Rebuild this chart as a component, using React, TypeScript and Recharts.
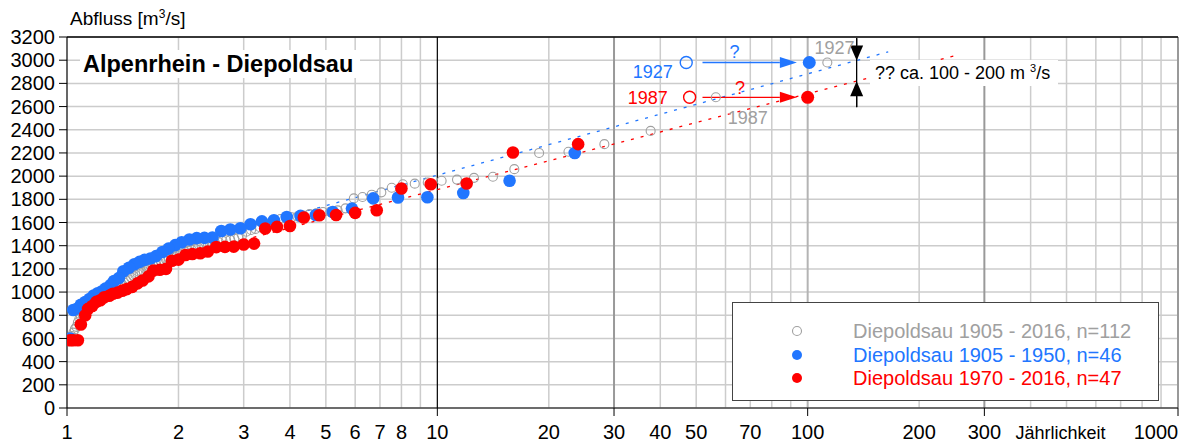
import React from 'react';
import {
  ScatterChart,
  Scatter,
  XAxis,
  YAxis,
  CartesianGrid,
  ReferenceLine,
  ReferenceDot,
} from 'recharts';

const FONT = '"Liberation Sans", Arial, Helvetica, sans-serif';
const BLUE = '#2176ff';
const RED = '#ff0000';
const GRAY = '#a0a0a0';

// Diepoldsau 1905 - 2016 (n=112): Jährlichkeit / Abfluss, absteigend
const allT = [
  113, 56.5, 37.67, 28.25, 22.6, 18.83, 16.14, 14.13, 12.56, 11.3,
  10.27, 9.42, 8.69, 8.07, 7.53, 7.06, 6.65, 6.28, 5.95, 5.65,
  5.38, 5.14, 4.91, 4.71, 4.52, 4.35, 4.19, 4.04, 3.9, 3.77,
  3.65, 3.53, 3.42, 3.32, 3.23, 3.14, 3.05, 2.97, 2.9, 2.83,
  2.76, 2.69, 2.63, 2.57, 2.51, 2.46, 2.4, 2.35, 2.31, 2.26,
  2.22, 2.17, 2.13, 2.09, 2.05, 2.02, 1.98, 1.95, 1.92, 1.88,
  1.85, 1.82, 1.79, 1.77, 1.74, 1.71, 1.69, 1.66, 1.64, 1.61,
  1.59, 1.57, 1.55, 1.53, 1.51, 1.49, 1.47, 1.45, 1.43, 1.41,
  1.4, 1.38, 1.36, 1.35, 1.33, 1.31, 1.3, 1.28, 1.27, 1.26,
  1.24, 1.23, 1.22, 1.2, 1.19, 1.18, 1.16, 1.15, 1.14, 1.13,
  1.12, 1.11, 1.1, 1.09, 1.08, 1.07, 1.06, 1.05, 1.04, 1.03,
  1.02, 1.01,
];
const allQ = [
  2980, 2680, 2390, 2276, 2210, 2200, 2060, 1995, 1985, 1970,
  1960, 1945, 1935, 1930, 1900, 1860, 1840, 1820, 1808, 1722,
  1705, 1692, 1690, 1680, 1672, 1660, 1652, 1645, 1640, 1630,
  1610, 1590, 1575, 1560, 1545, 1535, 1520, 1490, 1472, 1460,
  1450, 1447, 1440, 1430, 1425, 1418, 1410, 1403, 1395, 1385,
  1375, 1365, 1355, 1346, 1335, 1325, 1315, 1305, 1295, 1290,
  1282, 1275, 1268, 1255, 1245, 1230, 1215, 1200, 1190, 1180,
  1175, 1170, 1160, 1150, 1140, 1125, 1110, 1095, 1080, 1065,
  1058, 1045, 1030, 1015, 1005, 995, 985, 975, 965, 955,
  945, 935, 925, 915, 905, 895, 885, 875, 860, 850,
  840, 825, 810, 790, 770, 740, 700, 680, 650, 620,
  600, 580,
];

// Diepoldsau 1905 - 1950 (n=46), ohne 1927
const earlyT = [
  23.5, 15.67, 11.75, 9.4, 7.83, 6.71, 5.88, 5.22, 4.7, 4.27,
  3.92, 3.62, 3.36, 3.13, 2.94, 2.76, 2.61, 2.47, 2.35, 2.24,
  2.14, 2.04, 1.96, 1.88, 1.81, 1.74, 1.68, 1.62, 1.57, 1.52,
  1.47, 1.42, 1.38, 1.34, 1.31, 1.27, 1.24, 1.21, 1.18, 1.15,
  1.12, 1.09, 1.07, 1.04, 1.02,
];
const earlyQ = [
  2200, 1960, 1855, 1818, 1815, 1808, 1720, 1690, 1665, 1657,
  1648, 1619, 1610, 1585, 1550, 1540, 1527, 1470, 1467, 1465,
  1453, 1430, 1405, 1375, 1345, 1310, 1289, 1278, 1260, 1240,
  1210, 1180, 1120, 1095, 1060, 1030, 1005, 990, 970, 940,
  914, 890, 860, 845, 600,
];

// Diepoldsau 1970 - 2016 (n=47), ohne 1987
const lateT = [
  24, 16, 12, 9.6, 8, 6.86, 6, 5.33, 4.8, 4.36,
  4, 3.69, 3.43, 3.2, 3, 2.82, 2.67, 2.53, 2.4, 2.29,
  2.18, 2.09, 2, 1.92, 1.85, 1.78, 1.71, 1.66, 1.6, 1.55,
  1.5, 1.45, 1.41, 1.37, 1.33, 1.3, 1.26, 1.23, 1.2, 1.17,
  1.14, 1.12, 1.09, 1.07, 1.04, 1.02,
];
const lateQ = [
  2276, 2204, 1936, 1930, 1893, 1706, 1683, 1665, 1663, 1643,
  1570, 1562, 1548, 1418, 1410, 1392, 1390, 1388, 1350, 1335,
  1328, 1320, 1280, 1270, 1200, 1192, 1185, 1135, 1100, 1075,
  1045, 1025, 1012, 995, 985, 968, 955, 930, 915, 880,
  855, 800, 720, 585, 585, 585,
];

// Trendlinien (Anfang, Ende)
const blueTrendT = [4.2, 165];
const blueTrendQ = [1679, 3072];
const redTrendT = [3.0, 249];
const redTrendQ = [1451, 3038];

// 1927 und 1987: beobachtet (offen) und verschoben (gefüllt)
const eventT = [47, 48];
const movedT = [101, 100];
const eventQ = [2980, 2680];
const arrowT = [52, 93.5];

// Abstand der Trendlinien bei T ~ 136
const gapT = 135.6;
const gapQ = [3190, 2997, 2819, 2595];

const noteText = ['1927', '1987', '1927', '1987', '?', '?'];
const noteT = [43.2, 41.9, 104.4, 60.8, 63.5, 65.7];
const noteQ = [2898, 2682, 3105, 2509, 3075, 2765];
const noteColor = [BLUE, RED, GRAY, GRAY, BLUE, RED];
const noteAnchor = ['end', 'end', 'start', 'start', 'middle', 'middle'];

const yTicks = Array.from({ length: 17 }, (_, i) => i * 200);
const xTicks = [1, 2, 3, 4, 5, 6, 7, 8, 10, 20, 30, 40, 50, 70, 100, 200, 300, 500, 1000];
const majorX = [1, 10, 30, 100, 300, 1000];
const minorGrid = [2, 3, 4, 5, 6, 7, 8, 9, 20, 40, 50, 60, 70, 80, 90, 200, 400, 500, 600, 700, 800, 900];
const darkGrid = [30, 300, 1000];

const pairs = (xs: number[], ys: number[]) => xs.map((x, i) => ({ x, y: ys[i] }));

const allData = pairs(allT, allQ);
const earlyData = pairs(earlyT, earlyQ);
const lateData = pairs(lateT, lateQ);

const openDot = (color: string, r: number, sw: number) => (p: any) => (
  <circle cx={p.cx} cy={p.cy} r={r} fill="none" stroke={color} strokeWidth={sw} />
);
const fullDot = (color: string, r: number) => (p: any) => (
  <circle cx={p.cx} cy={p.cy} r={r} fill={color} />
);

const arrowShape = (color: string, headLen: number, headW: number, sw = 1.3) => (p: any) => {
  const { x1, y1, x2, y2 } = p;
  const dx = x2 - x1;
  const dy = y2 - y1;
  const len = Math.hypot(dx, dy) || 1;
  const ux = dx / len;
  const uy = dy / len;
  const bx = x2 - ux * headLen;
  const by = y2 - uy * headLen;
  const px = (-uy * headW) / 2;
  const py = (ux * headW) / 2;
  return (
    <g>
      <line x1={x1} y1={y1} x2={bx} y2={by} stroke={color} strokeWidth={sw} />
      <polygon points={`${x2},${y2} ${bx + px},${by + py} ${bx - px},${by - py}`} fill={color} />
    </g>
  );
};

const textShape = (txt: string, color: string, anchor: string) => (p: any) => (
  <text
    x={p.cx}
    y={p.cy}
    dy="0.36em"
    textAnchor={anchor}
    fill={color}
    fontSize={18}
    fontFamily={FONT}
  >
    {txt}
  </text>
);

function XTick({ x, y, payload }: any) {
  const v = payload.value;
  const label = v === 500 ? 'Jährlichkeit' : String(v);
  const dx = v === 1000 ? -22 : v === 500 ? -6 : 0;
  return (
    <g>
      {majorX.includes(v) && <line x1={x} x2={x} y1={y} y2={y + 8} stroke="#000" strokeWidth={1} />}
      <text
        x={x + dx}
        y={y + 31}
        textAnchor="middle"
        fill="#000"
        fontSize={v === 500 ? 18 : 20}
        fontFamily={FONT}
      >
        {label}
      </text>
    </g>
  );
}

const legendRows = [
  { label: 'Diepoldsau 1905 - 2016, n=112', color: GRAY, open: true },
  { label: 'Diepoldsau 1905 - 1950, n=46', color: BLUE, open: false },
  { label: 'Diepoldsau 1970 - 2016, n=47', color: RED, open: false },
];

export default function App() {
  return (
    <div
      style={{
        position: 'absolute',
        left: 0,
        top: 0,
        width: 1200,
        height: 443,
        background: '#fff',
        fontFamily: FONT,
        overflow: 'hidden',
      }}
    >
      <ScatterChart width={1200} height={443} margin={{ top: 37, right: 22, bottom: 0, left: 0 }}>
        <CartesianGrid vertical={false} stroke="#cccccc" strokeWidth={1.5} />
        {minorGrid.map((v) => (
          <ReferenceLine key={`g${v}`} x={v} stroke="#cccccc" strokeWidth={1.5} />
        ))}
        <ReferenceLine x={100} stroke="#b4b4b4" strokeWidth={2} />
        {darkGrid.map((v) => (
          <ReferenceLine key={`d${v}`} x={v} stroke="#999999" strokeWidth={2} />
        ))}
        <ReferenceLine x={10} stroke="#000" strokeWidth={1.2} />
        <ReferenceLine y={3200} stroke="#000" strokeWidth={1.5} />
        <XAxis
          type="number"
          dataKey="x"
          scale="log"
          domain={[1, 1000]}
          ticks={xTicks}
          allowDataOverflow
          height={35}
          tickLine={false}
          tickSize={0}
          tickMargin={0}
          axisLine={{ stroke: '#000', strokeWidth: 1.2 }}
          tick={<XTick />}
          interval={0}
        />
        <YAxis
          type="number"
          dataKey="y"
          domain={[0, 3200]}
          ticks={yTicks}
          width={67}
          tickSize={8}
          tickMargin={4}
          interval={0}
          axisLine={{ stroke: '#000', strokeWidth: 1.2 }}
          tickLine={{ stroke: '#000' }}
          tick={{ fill: '#000', fontSize: 20, fontFamily: FONT }}
        />
        <ReferenceLine
          segment={pairs(blueTrendT, blueTrendQ)}
          stroke={BLUE}
          strokeWidth={1.3}
          strokeDasharray="3 7"
        />
        <ReferenceLine
          segment={pairs(redTrendT, redTrendQ)}
          stroke={RED}
          strokeWidth={1.3}
          strokeDasharray="3 7"
        />
        <Scatter data={allData} shape={openDot(GRAY, 4.5, 1.1)} isAnimationActive={false} />
        <Scatter data={earlyData} shape={fullDot(BLUE, 6.3)} isAnimationActive={false} />
        <Scatter data={lateData} shape={fullDot(RED, 6.3)} isAnimationActive={false} />
        <Scatter data={[{ x: eventT[0], y: eventQ[0] }]} shape={openDot(BLUE, 6, 1.4)} isAnimationActive={false} />
        <Scatter data={[{ x: eventT[1], y: eventQ[1] }]} shape={openDot(RED, 6, 1.4)} isAnimationActive={false} />
        <Scatter data={[{ x: movedT[0], y: eventQ[0] }]} shape={fullDot(BLUE, 6.5)} isAnimationActive={false} />
        <Scatter data={[{ x: movedT[1], y: eventQ[1] }]} shape={fullDot(RED, 6.5)} isAnimationActive={false} />
        <ReferenceLine
          segment={[{ x: arrowT[0], y: eventQ[0] }, { x: arrowT[1], y: eventQ[0] }]}
          shape={arrowShape(BLUE, 17, 11)}
        />
        <ReferenceLine
          segment={[{ x: arrowT[0], y: eventQ[1] }, { x: arrowT[1], y: eventQ[1] }]}
          shape={arrowShape(RED, 17, 11)}
        />
        <ReferenceLine
          segment={[{ x: gapT, y: gapQ[0] }, { x: gapT, y: gapQ[3] }]}
          stroke="#000"
          strokeWidth={1.3}
        />
        <ReferenceLine
          segment={[{ x: gapT, y: gapQ[0] }, { x: gapT, y: gapQ[1] }]}
          shape={arrowShape('#000', 15, 13)}
        />
        <ReferenceLine
          segment={[{ x: gapT, y: gapQ[3] }, { x: gapT, y: gapQ[2] }]}
          shape={arrowShape('#000', 15, 13)}
        />
        {noteText.map((t, i) => (
          <ReferenceDot
            key={`n${i}`}
            x={noteT[i]}
            y={noteQ[i]}
            r={0}
            shape={textShape(t, noteColor[i], noteAnchor[i])}
          />
        ))}
      </ScatterChart>

      <div style={{ position: 'absolute', left: 70, top: 8, fontSize: 19, lineHeight: '22px', color: '#000' }}>
        Abfluss [m<sup style={{ fontSize: 12, verticalAlign: 7, lineHeight: 0 }}>3</sup>/s]
      </div>

      <div
        style={{
          position: 'absolute',
          left: 80,
          top: 50,
          width: 280,
          height: 28,
          paddingLeft: 3,
          boxSizing: 'border-box',
          background: '#fff',
          fontSize: 23.5,
          fontWeight: 'bold',
          lineHeight: '28px',
          color: '#000',
          whiteSpace: 'nowrap',
        }}
      >
        Alpenrhein - Diepoldsau
      </div>

      <div
        style={{
          position: 'absolute',
          left: 870,
          top: 60,
          width: 188,
          height: 26,
          paddingLeft: 5,
          boxSizing: 'border-box',
          background: '#fff',
          fontSize: 18,
          lineHeight: '26px',
          color: '#000',
          whiteSpace: 'nowrap',
        }}
      >
        ?? ca. 100 - 200 m <sup style={{ fontSize: 11, verticalAlign: 7, lineHeight: 0 }}>3</sup>/s
      </div>

      <div
        style={{
          position: 'absolute',
          left: 732,
          top: 302,
          width: 427,
          height: 99,
          boxSizing: 'border-box',
          border: '1.5px solid #444',
          background: '#fff',
        }}
      >
        {legendRows.map((row, i) => (
          <div
            key={row.label}
            style={{ position: 'absolute', left: 0, top: 16 + i * 23.5, height: 24, width: '100%' }}
          >
            <svg width={20} height={24} style={{ position: 'absolute', left: 54, top: 0 }}>
              {row.open ? (
                <circle cx={10} cy={12} r={4.5} fill="none" stroke={row.color} strokeWidth={1.1} />
              ) : (
                <circle cx={10} cy={12} r={5} fill={row.color} />
              )}
            </svg>
            <span
              style={{
                position: 'absolute',
                left: 120,
                top: 0,
                fontSize: 20,
                lineHeight: '24px',
                color: row.color,
                whiteSpace: 'nowrap',
              }}
            >
              {row.label}
            </span>
          </div>
        ))}
      </div>
    </div>
  );
}
